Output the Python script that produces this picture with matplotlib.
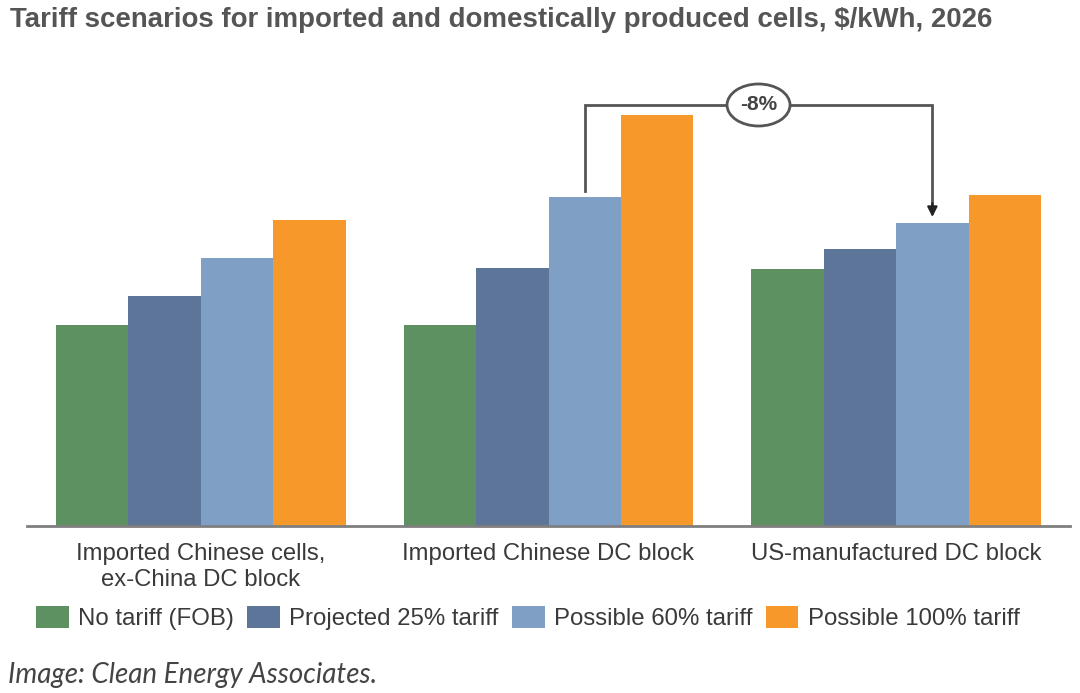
import matplotlib
matplotlib.use("Agg")
import matplotlib.pyplot as plt
from matplotlib.patches import Ellipse, Patch
import numpy as np

plt.rcParams['font.family'] = ['Liberation Sans', 'DejaVu Sans']

title = "Tariff scenarios for imported and domestically produced cells, $/kWh, 2026"
categories = ["Imported Chinese cells,\nex-China DC block",
              "Imported Chinese DC block",
              "US-manufactured DC block"]
series_names = ["No tariff (FOB)", "Projected 25% tariff",
                "Possible 60% tariff", "Possible 100% tariff"]
# relative heights (no axis scale shown)
no_tariff = [201, 201, 257]
proj_25 = [230, 258, 277]
poss_60 = [268, 329, 303]
poss_100 = [306, 411, 331]
annotation = "-8%"
caption = "Image: Clean Energy Associates."

colors = ["#5e9162", "#5c7599", "#7f9fc4", "#f7982b"]
series = [no_tariff, proj_25, poss_60, poss_100]

W, H = 1080, 693
fig = plt.figure(figsize=(W / 100, H / 100), dpi=100)
fig.patch.set_facecolor("white")
ax = fig.add_axes([27 / W, (H - 526) / H, (1070 - 27) / W, 430 / H])

x = np.arange(len(categories))
bw = 0.2083
for i, (vals, c) in enumerate(zip(series, colors)):
    ax.bar(x + (i - 1.5) * bw, vals, width=bw, color=c, linewidth=0)

ax.set_xlim(-0.5, 2.5)
ax.set_ylim(0, 430)
for s in ["top", "right", "left"]:
    ax.spines[s].set_visible(False)
ax.spines["bottom"].set_color("#7f7f7f")
ax.spines["bottom"].set_linewidth(2)
ax.set_yticks([])
ax.set_xticks(x)
ax.set_xticklabels(categories, fontsize=17.2, color="#3a3a3a", linespacing=1.22)
ax.tick_params(axis="x", length=0, pad=12.5)

# bracket annotation between group 2 and group 3 "Possible 60%" bars
x1 = x[1] + 0.5 * bw
x2 = x[2] + 0.5 * bw
y1 = poss_60[1] + 6
y2 = poss_60[2] + 6
ytop = max(poss_100) + 10
lc = "#555555"
ax.plot([x1, x1, x2, x2], [y1, ytop, ytop, y2 + 12], color=lc, lw=2, clip_on=False,
        solid_joinstyle="miter")
ax.annotate("", xy=(x2, y2), xytext=(x2, y2 + 14),
            arrowprops=dict(arrowstyle="-|>,head_width=0.3,head_length=0.6",
                            color="#222222", lw=1.5, shrinkA=0, shrinkB=0))
xm = (x1 + x2) / 2
ax.add_patch(Ellipse((xm, ytop), width=63 / 347.7, height=42, facecolor="white",
                     edgecolor=lc, lw=2, clip_on=False, zorder=5))
ax.text(xm, ytop, annotation, ha="center", va="center", fontsize=15,
        color="#444444", fontweight="bold", zorder=6)

fig.text(10 / W, 1 - 20 / H, title, ha="left", va="center", fontsize=19.9,
         fontweight="bold", color="#555555")

handles = [Patch(facecolor=c, edgecolor="none") for c in colors]
fig.legend(handles, series_names, loc="center left", bbox_to_anchor=(36 / W, 1 - 618 / H),
           ncol=4, frameon=False, fontsize=17.3, handlelength=1.37, handleheight=1.05,
           handletextpad=0.38, columnspacing=0.55, labelcolor="#3a3a3a", borderaxespad=0,
           borderpad=0)

fig.text(8 / W, 1 - 675 / H, caption, ha="left", va="center", fontsize=20,
         style="italic", color="#444444", family=["Lato", "DejaVu Sans"])

fig.savefig("out.png", dpi=100, facecolor="white")
